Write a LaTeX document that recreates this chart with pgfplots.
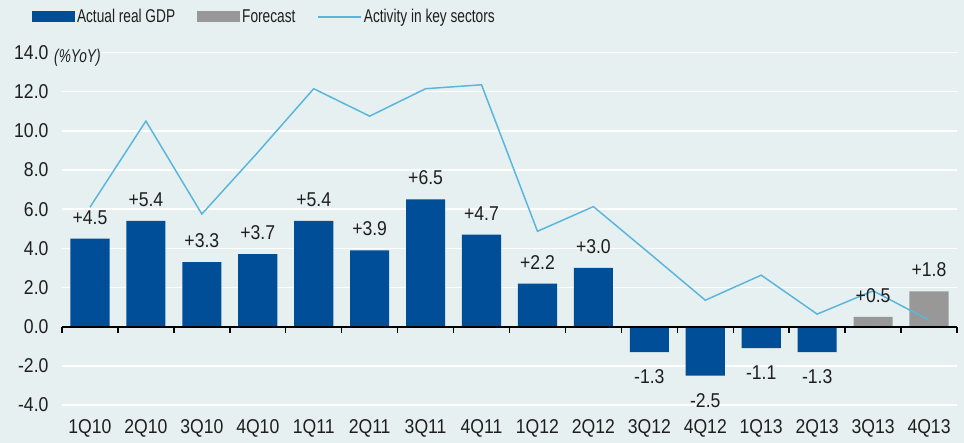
\documentclass[border=0pt]{standalone}
\usepackage{fontspec}
\setmainfont[FakeStretch=0.74]{Liberation Sans}
\newfontfamily\numfont[FakeStretch=0.88]{Liberation Sans}
\usepackage{pgfplots}
\pgfplotsset{compat=1.18}
\definecolor{bg}{HTML}{E7F0F1}
\definecolor{gdpblue}{HTML}{004E98}
\definecolor{fcgray}{HTML}{989898}
\definecolor{actline}{HTML}{5BB6DC}
\definecolor{txt}{HTML}{1E1E1E}
\newcommand{\numsize}{\numfont\fontsize{20}{23}\selectfont}
\begin{document}
\begin{tikzpicture}[font=\fontsize{18.5}{21}\selectfont]
\fill[bg] (-62pt,-38pt) rectangle (902pt,405pt);
\begin{axis}[
  at={(0pt,0pt)}, anchor=south west,
  scale only axis, width=895pt, height=352.5pt,
  xmin=-0.5, xmax=15.5, ymin=-4, ymax=14,
  axis line style={draw=none},
  xtick={0,...,15},
  xticklabels={1Q10,2Q10,3Q10,4Q10,1Q11,2Q11,3Q11,4Q11,1Q12,2Q12,3Q12,4Q12,1Q13,2Q13,3Q13,4Q13},
  ytick={-4,-2,0,2,4,6,8,10,12,14},
  yticklabels={-4.0,-2.0,0.0,2.0,4.0,6.0,8.0,10.0,12.0,14.0},
  major tick length=0pt,
  ymajorgrids, grid style={white, line width=1.6pt},
  tick label style={text=txt, font=\numsize},
  xticklabel style={yshift=-11pt},
  yticklabel style={xshift=-10pt},
  clip=false,
  legend columns=3,
  legend cell align=left,
  legend style={at={(-0.0335,1.1007)}, anchor=west, draw=none, fill=none,
    inner sep=0pt, outer sep=0pt, text=txt, font=\fontsize{18.5}{21}\selectfont,
    nodes={inner sep=2pt},
    /tikz/every even column/.append style={column sep=20pt}},
]
\addplot[ybar, bar width=0.7, bar shift=0pt, fill=gdpblue, draw=none,
  legend image code/.code={\fill[gdpblue] (0pt,-5.5pt) rectangle (43pt,5.5pt);}]
  coordinates {(0,4.5)(1,5.4)(2,3.3)(3,3.7)(4,5.4)(5,3.9)(6,6.5)(7,4.7)
               (8,2.2)(9,3.0)(10,-1.3)(11,-2.5)(12,-1.1)(13,-1.3)};
\addlegendentry{Actual real GDP}
\addplot[ybar, bar width=0.7, bar shift=0pt, fill=fcgray, draw=none,
  legend image code/.code={\fill[fcgray] (0pt,-5.5pt) rectangle (43pt,5.5pt);}]
  coordinates {(14,0.5)(15,1.8)};
\addlegendentry{Forecast}
\addplot[actline, line width=1.5pt, mark=none,
  legend image code/.code={\draw[actline, line width=1.5pt] (0pt,0pt) -- (43pt,0pt);}]
  coordinates {(0,6.1)(1,10.5)(2,5.75)(3,8.9)(4,12.15)(5,10.75)(6,12.15)(7,12.35)
               (8,4.87)(9,6.13)(10,3.75)(11,1.35)(12,2.63)(13,0.64)(14,1.83)(15,0.33)};
\addlegendentry{Activity in key sectors}
% zero line with category ticks
\draw[black, line width=2.2pt] (axis cs:-0.5,0) -- (axis cs:15.5,0);
\pgfplotsinvokeforeach{-0.5,0.5,1.5,2.5,3.5,4.5,5.5,6.5,7.5,8.5,9.5,10.5,11.5,12.5,13.5,14.5,15.5}{
  \draw[black, line width=1.4pt] (axis cs:#1,0) -- ++(0pt,-6pt);
}
% value labels
\addplot[draw=none, mark=none, forget plot, nodes near coords, point meta=explicit symbolic,
  every node near coord/.append style={anchor=base, inner sep=0pt, yshift=14.5pt, text=txt, font=\numsize}]
  coordinates {(0,4.5)[+4.5] (1,5.4)[+5.4] (2,3.3)[+3.3] (3,3.7)[+3.7] (4,5.4)[+5.4]
               (5,3.9)[+3.9] (6,6.5)[+6.5] (7,4.7)[+4.7] (8,2.2)[+2.2] (9,3.0)[+3.0]
               (14,0.5)[+0.5] (15,1.8)[+1.8]};
\addplot[draw=none, mark=none, forget plot, nodes near coords, point meta=explicit symbolic,
  every node near coord/.append style={anchor=base, inner sep=0pt, yshift=-31.5pt, text=txt, font=\numsize}]
  coordinates {(10,-1.3)[-1.3] (11,-2.5)[-2.5] (12,-1.1)[-1.1] (13,-1.3)[-1.3]};
\node[anchor=west, fill=bg, inner xsep=1pt, inner ysep=1pt, text=txt, font=\fontsize{18.5}{21}\selectfont\itshape]
  at (axis cs:-0.66,13.72) {(\%YoY)};
\end{axis}
\pgfresetboundingbox
\useasboundingbox (-62pt,-38pt) rectangle (902pt,405pt);
\end{tikzpicture}
\end{document}
